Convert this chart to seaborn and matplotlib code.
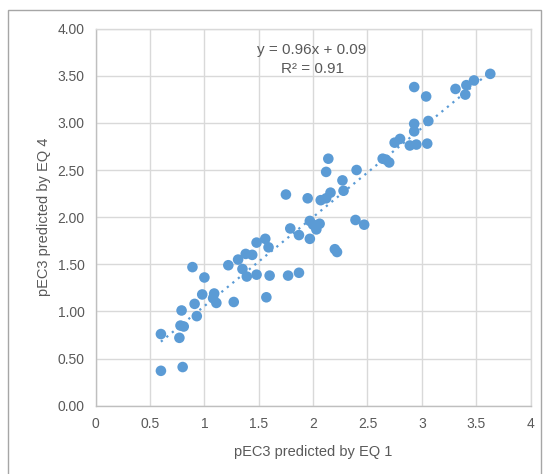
import matplotlib
matplotlib.use("Agg")
import matplotlib.pyplot as plt
import seaborn as sns
import pandas as pd
from matplotlib.patches import Rectangle

# Data
eq1 = [0.60, 0.80, 0.60, 0.77, 0.78, 0.81, 0.79, 0.93, 0.91, 0.98,
       0.89, 1.00, 1.09, 1.08, 1.11, 1.27, 1.22, 1.31, 1.35, 1.39,
       1.38, 1.44, 1.48, 1.56, 1.59, 1.48, 1.57, 1.60, 1.77, 1.87,
       1.75, 1.79, 1.87, 1.97, 1.97, 2.00, 2.03, 2.06, 1.95, 2.07,
       2.12, 2.16, 2.12, 2.14, 2.20, 2.22, 2.27, 2.28, 2.40, 2.39,
       2.47, 2.64, 2.67, 2.70, 2.75, 2.80, 2.89, 2.95, 3.05, 2.93,
       2.93, 3.06, 2.93, 3.04, 3.31, 3.41, 3.40, 3.48, 3.63]
eq4 = [0.37, 0.41, 0.76, 0.72, 0.85, 0.84, 1.01, 0.95, 1.08, 1.18,
       1.47, 1.36, 1.19, 1.14, 1.09, 1.10, 1.49, 1.55, 1.45, 1.37,
       1.61, 1.60, 1.73, 1.77, 1.68, 1.39, 1.15, 1.38, 1.38, 1.41,
       2.24, 1.88, 1.81, 1.77, 1.96, 1.92, 1.87, 1.93, 2.20, 2.18,
       2.20, 2.26, 2.48, 2.62, 1.66, 1.63, 2.39, 2.28, 2.50, 1.97,
       1.92, 2.62, 2.61, 2.58, 2.79, 2.83, 2.76, 2.77, 2.78, 2.99,
       2.91, 3.02, 3.38, 3.28, 3.36, 3.40, 3.30, 3.45, 3.52]
x_ticks = [0, 0.5, 1, 1.5, 2, 2.5, 3, 3.5, 4]
x_tick_labels = ["0", "0.5", "1", "1.5", "2", "2.5", "3", "3.5", "4"]
y_ticks = [0, 0.5, 1, 1.5, 2, 2.5, 3, 3.5, 4]
y_tick_labels = ["0.00", "0.50", "1.00", "1.50", "2.00", "2.50", "3.00", "3.50", "4.00"]
equation_text = "y = 0.96x + 0.09\nR² = 0.91"

df = pd.DataFrame({"eq1": eq1, "eq4": eq4})

sns.set_theme(style="white")
plt.rcParams["font.family"] = ["Liberation Sans", "DejaVu Sans"]

blue = "#5B9BD5"
grid = "#D9D9D9"
txt = "#595959"

fig = plt.figure(figsize=(5.46, 4.74), dpi=100)
ax = fig.add_axes([95.7 / 546, 1 - 405.7 / 474, (530.5 - 95.7) / 546, (405.7 - 28.6) / 474])

sns.regplot(data=df, x="eq1", y="eq4", ax=ax, ci=None, truncate=True,
            scatter_kws={"s": 58, "color": blue, "edgecolor": "none", "alpha": 1, "zorder": 3},
            line_kws={"color": blue, "ls": (0, (1, 2.2)), "lw": 1.6, "zorder": 4})

ax.set_xlim(0, 4)
ax.set_ylim(0, 4)
ax.set_xticks(x_ticks)
ax.set_xticklabels(x_tick_labels)
ax.set_yticks(y_ticks)
ax.set_yticklabels(y_tick_labels)
ax.grid(True, color=grid, lw=1)
ax.set_axisbelow(True)
for side, sp in ax.spines.items():
    sp.set_color(grid)
    sp.set_linewidth(1)
ax.spines["left"].set_color("#BFBFBF")
ax.spines["bottom"].set_color("#BFBFBF")
ax.tick_params(axis="both", length=0, labelsize=10, labelcolor=txt, pad=8)
ax.set_xlabel("pEC3 predicted by EQ 1", fontsize=10.5, color=txt, labelpad=10)
ax.set_ylabel("pEC3 predicted by EQ 4", fontsize=10.5, color=txt, labelpad=5)

ax.text(1.99, 3.67, equation_text, ha="center", va="center", fontsize=11,
        color=txt, linespacing=1.45)

# outer chart border
fig.patches.append(Rectangle((8 / 546, -0.01), (541 - 8) / 546, 1 - 10 / 474 + 0.01,
                             transform=fig.transFigure, fill=False,
                             edgecolor="#A6A6A6", lw=1))

fig.savefig("out.png", dpi=100)
